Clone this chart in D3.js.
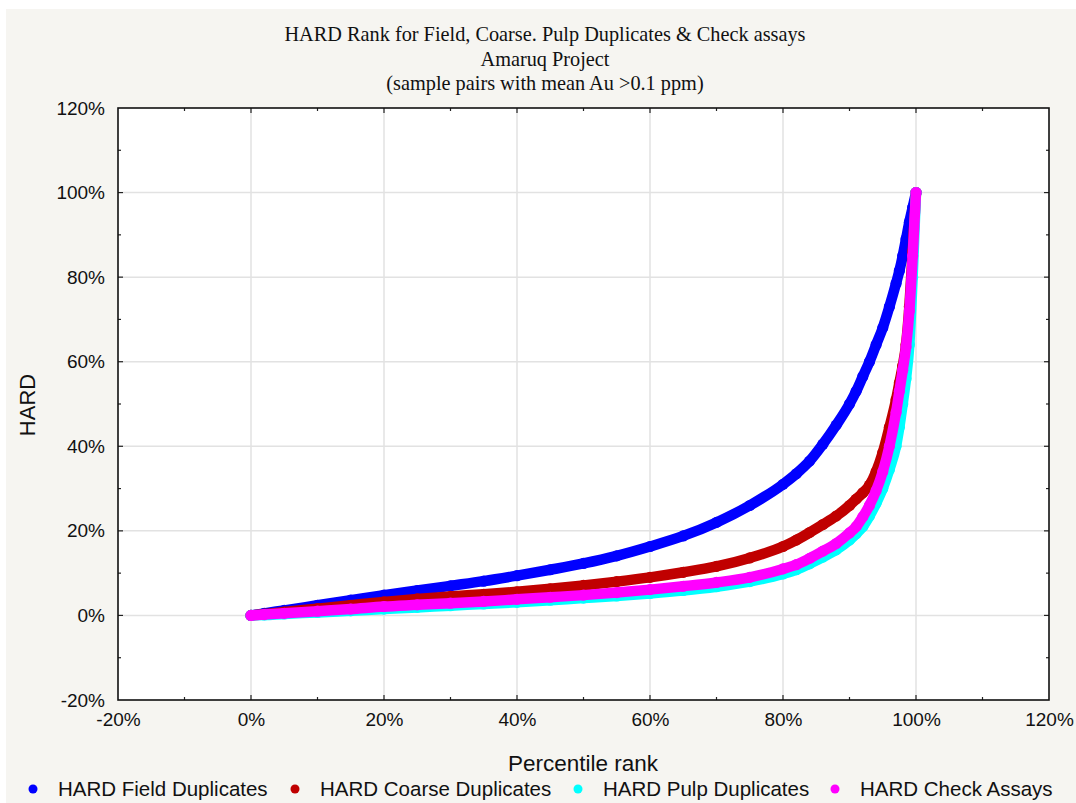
<!DOCTYPE html>
<html>
<head>
<meta charset="utf-8">
<script src="https://cdn.jsdelivr.net/npm/d3@7"></script>
<style>
  html, body { margin: 0; padding: 0; background: #ffffff; }
  svg { display: block; }
</style>
</head>
<body>
<svg id="chart" width="1076" height="803"></svg>
<script>
// ---------------- data (percent units) ----------------
const titleLines = [
  "HARD Rank for Field, Coarse. Pulp Duplicates & Check assays",
  "Amaruq Project",
  "(sample pairs with mean Au >0.1 ppm)"
];
const xTicks = [-20, 0, 20, 40, 60, 80, 100, 120];
const yTicks = [-20, 0, 20, 40, 60, 80, 100, 120];
const seriesNames = ["HARD Field Duplicates", "HARD Coarse Duplicates", "HARD Pulp Duplicates", "HARD Check Assays"];

const percentileRank = [0, 2, 5, 10, 15, 20, 25, 30, 35, 40, 45, 50, 55, 60, 65, 70, 75, 80, 82, 84, 86, 88, 90, 91, 92, 93, 94, 95, 96, 97, 97.5, 98, 98.5, 99, 99.5, 100];

const hardField  = [0, 0.5, 1.2, 2.4, 3.6, 4.8, 5.9, 7.0, 8.1, 9.4, 10.8, 12.3, 14.1, 16.3, 18.8, 22.0, 26.0, 31.0, 33.5, 36.5, 40.5, 45.0, 50.0, 53.0, 56.5, 60.0, 64.0, 68.0, 73.0, 78.5, 81.5, 85.0, 89.0, 93.0, 96.5, 100];
const hardCoarse = [0, 0.3, 0.8, 1.6, 2.4, 3.2, 3.9, 4.5, 5.0, 5.6, 6.3, 7.1, 8.0, 9.0, 10.2, 11.6, 13.6, 16.3, 17.8, 19.6, 21.5, 23.5, 26.0, 27.5, 29.0, 30.8, 34.0, 38.5, 44.5, 51.0, 55.0, 59.0, 64.0, 73.0, 86.0, 100];
const hardPulp   = [0, 0.1, 0.35, 0.7, 1.1, 1.5, 1.9, 2.3, 2.7, 3.1, 3.6, 4.1, 4.6, 5.2, 5.9, 6.8, 8.0, 9.8, 10.8, 12.2, 13.8, 15.5, 17.8, 19.3, 21.0, 23.5, 26.5, 30.0, 34.5, 40.0, 44.5, 50.0, 56.0, 64.0, 80.0, 100];
const hardCheck  = [0, 0.2, 0.5, 1.0, 1.5, 2.1, 2.5, 2.9, 3.3, 3.8, 4.3, 4.8, 5.4, 6.1, 6.9, 7.8, 9.0, 11.0, 12.0, 13.5, 15.2, 17.0, 19.5, 21.0, 23.3, 26.0, 29.5, 34.0, 40.0, 48.0, 53.0, 58.0, 63.5, 72.0, 85.0, 100];

const seriesValues = [hardField, hardCoarse, hardPulp, hardCheck];
const seriesColors = ["#0000ff", "#c00000", "#00ffff", "#ff00ff"];

// ---------------- layout ----------------
const svg = d3.select("#chart");
const W = 1076, H = 803;
const plot = { left: 118, right: 1049, top: 108, bottom: 700 };

svg.append("rect").attr("x", 6).attr("y", 9).attr("width", W - 6).attr("height", H - 9).attr("fill", "#f6f5f1");

const x = d3.scaleLinear().domain([-20, 120]).range([plot.left, plot.right]);
const y = d3.scaleLinear().domain([-20, 120]).range([plot.bottom, plot.top]);

svg.append("rect")
  .attr("x", plot.left).attr("y", plot.top)
  .attr("width", plot.right - plot.left).attr("height", plot.bottom - plot.top)
  .attr("fill", "#ffffff");

// gridlines
const grid = svg.append("g");
grid.selectAll("line.gx").data(xTicks.slice(1, -1)).join("line")
  .attr("x1", d => x(d)).attr("x2", d => x(d))
  .attr("y1", plot.top).attr("y2", plot.bottom)
  .attr("stroke", "#e2e2e2").attr("stroke-width", 1.5);
grid.selectAll("line.gy").data(yTicks.slice(1, -1)).join("line")
  .attr("y1", d => y(d)).attr("y2", d => y(d))
  .attr("x1", plot.left).attr("x2", plot.right)
  .attr("stroke", "#e2e2e2").attr("stroke-width", 1.5);

// inward ticks on all four sides (major + minor)
const minorTicks = d3.range(-10, 120, 20);
const tickG = svg.append("g").attr("stroke", "#222").attr("stroke-width", 1.2);
function sideTicks(vals, len) {
  vals.forEach(v => {
    tickG.append("line").attr("x1", x(v)).attr("x2", x(v)).attr("y1", plot.bottom).attr("y2", plot.bottom - len);
    tickG.append("line").attr("x1", x(v)).attr("x2", x(v)).attr("y1", plot.top).attr("y2", plot.top + len);
    tickG.append("line").attr("y1", y(v)).attr("y2", y(v)).attr("x1", plot.left).attr("x2", plot.left + len);
    tickG.append("line").attr("y1", y(v)).attr("y2", y(v)).attr("x1", plot.right).attr("x2", plot.right - len);
  });
}
sideTicks(xTicks.slice(1, -1), 5);
sideTicks(minorTicks, 3);

// axes labels via d3 axes
const fmt = d => d + "%";
const xAxis = svg.append("g").attr("transform", `translate(0,${plot.bottom})`)
  .call(d3.axisBottom(x).tickValues(xTicks).tickFormat(fmt).tickSize(0).tickPadding(12));
const yAxis = svg.append("g").attr("transform", `translate(${plot.left},0)`)
  .call(d3.axisLeft(y).tickValues(yTicks).tickFormat(fmt).tickSize(0).tickPadding(13));
[xAxis, yAxis].forEach(a => {
  a.select(".domain").remove();
  a.selectAll("text").attr("font-family", "Liberation Sans, Arial, sans-serif").attr("font-size", 19).attr("fill", "#111");
});
xAxis.selectAll("text").attr("dy", "0.75em");

// series
const line = d3.line().x(d => x(d[0])).y(d => y(d[1])).curve(d3.curveMonotoneX);
const seriesG = svg.append("g");
seriesValues.forEach((vals, i) => {
  const pts = percentileRank.map((p, k) => [p, vals[k]]);
  const g = seriesG.append("g");
  g.append("path").datum(pts)
    .attr("d", line)
    .attr("fill", "none")
    .attr("stroke", seriesColors[i])
    .attr("stroke-width", 10.5)
    .attr("stroke-linecap", "round")
    .attr("stroke-linejoin", "round");
  g.selectAll("circle").data(pts).join("circle")
    .attr("cx", d => x(d[0])).attr("cy", d => y(d[1]))
    .attr("r", 5.6).attr("fill", seriesColors[i]);
});

// frame
svg.append("rect")
  .attr("x", plot.left).attr("y", plot.top)
  .attr("width", plot.right - plot.left).attr("height", plot.bottom - plot.top)
  .attr("fill", "none").attr("stroke", "#111").attr("stroke-width", 1.6);

// title
svg.append("g").selectAll("text").data(titleLines).join("text")
  .attr("x", 545).attr("y", (d, i) => 41 + i * 24.5)
  .attr("text-anchor", "middle")
  .attr("font-family", "Liberation Serif, Times New Roman, serif")
  .attr("font-size", 20.3).attr("fill", "#111")
  .text(d => d);

// axis titles
svg.append("text").attr("x", 583).attr("y", 771).attr("text-anchor", "middle")
  .attr("font-family", "Liberation Sans, Arial, sans-serif").attr("font-size", 22.5).attr("fill", "#111")
  .text("Percentile rank");
svg.append("text").attr("transform", "translate(35,405) rotate(-90)").attr("text-anchor", "middle")
  .attr("font-family", "Liberation Sans, Arial, sans-serif").attr("font-size", 22).attr("fill", "#111")
  .text("HARD");

// legend
const legendDotX = [33, 295, 578, 835];
const legend = svg.append("g");
seriesNames.forEach((name, i) => {
  legend.append("circle").attr("cx", legendDotX[i]).attr("cy", 789).attr("r", 4.5).attr("fill", seriesColors[i]);
  legend.append("text").attr("x", legendDotX[i] + 25).attr("y", 796)
    .attr("font-family", "Liberation Sans, Arial, sans-serif").attr("font-size", 20.5).attr("fill", "#111")
    .text(name);
});
</script>
</body>
</html>
